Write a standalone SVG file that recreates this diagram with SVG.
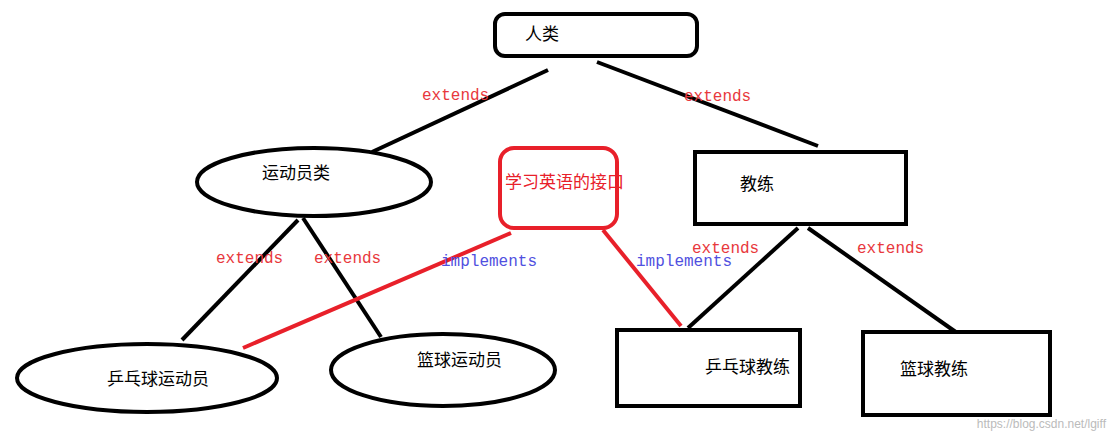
<svg xmlns="http://www.w3.org/2000/svg" width="1116" height="440" viewBox="0 0 1116 440">
<style>
.n{fill:#fff;stroke:#000;stroke-width:4}
.t{font-family:"Noto Sans CJK SC",sans-serif;font-size:17px;fill:#000}
.e{font-family:"Liberation Mono",monospace;font-size:16px;fill:#e8383d}
.i{font-family:"Liberation Mono",monospace;font-size:16px;fill:#5050e0}
.k{stroke:#000;stroke-width:4;fill:none}
.r{stroke:#e8202a;stroke-width:4;fill:none}
</style>
<rect width="1116" height="440" fill="#fff"/>
<g id="connectors">
<line class="k" x1="548" y1="70" x2="372" y2="152"/>
<line class="k" x1="597" y1="62" x2="818" y2="146"/>
<line class="k" x1="298" y1="220" x2="182" y2="340"/>
<line class="k" x1="303" y1="218" x2="381" y2="337"/>
<line class="k" x1="798" y1="228" x2="688" y2="328"/>
<line class="k" x1="808" y1="228" x2="960" y2="335"/>
<line class="r" x1="511" y1="233" x2="243" y2="348"/>
<line class="r" x1="603" y1="230" x2="681" y2="326"/>
<text class="e" x="422" y="100">extends</text>
<text class="e" x="684" y="101">extends</text>
<text class="e" x="216" y="263">extends</text>
<text class="e" x="314" y="263">extends</text>
<text class="e" x="692" y="253">extends</text>
<text class="e" x="857" y="253">extends</text>
<text class="i" x="441" y="266">implements</text>
<text class="i" x="636" y="266">implements</text>
</g>
<g id="human"><rect class="n" x="495" y="14" width="202" height="42" rx="10"/><text class="t" x="525" y="40">人类</text></g>
<g id="athlete"><ellipse class="n" cx="314" cy="182" rx="117" ry="34"/><text class="t" x="262" y="179">运动员类</text></g>
<g id="english"><rect x="500" y="148" width="117" height="80" rx="14" fill="#fff" stroke="#e8202a" stroke-width="4"/><text class="t" x="505" y="188" style="fill:#e8202a">学习英语的接口</text></g>
<g id="coach"><rect class="n" x="695" y="152" width="211" height="72"/><text class="t" x="740" y="190">教练</text></g>
<g id="ppathlete"><ellipse class="n" cx="147" cy="378" rx="130" ry="34"/><text class="t" x="107" y="385">乒乓球运动员</text></g>
<g id="bbathlete"><ellipse class="n" cx="443" cy="370" rx="112" ry="36"/><text class="t" x="417" y="366">篮球运动员</text></g>
<g id="ppcoach"><rect class="n" x="617" y="330" width="183" height="76"/><text class="t" x="705" y="373">乒乓球教练</text></g>
<g id="bbcoach"><rect class="n" x="863" y="332" width="187" height="83"/><text class="t" x="900" y="375">篮球教练</text></g>
<text x="1106" y="428" text-anchor="end" font-family="Liberation Sans,sans-serif" font-size="12" fill="#bbb">https://blog.csdn.net/lgiff</text>
</svg>
